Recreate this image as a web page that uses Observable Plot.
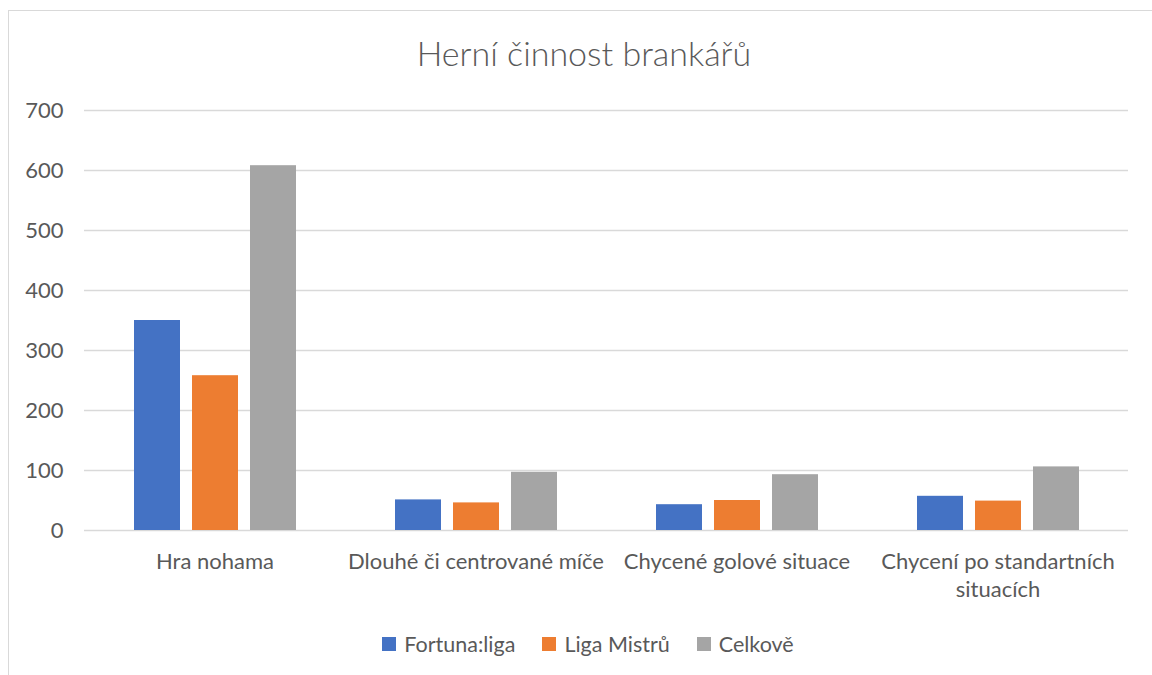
<!DOCTYPE html>
<html>
<head>
<meta charset="utf-8">
<script src="https://cdn.jsdelivr.net/npm/d3@7"></script>
<script src="https://cdn.jsdelivr.net/npm/@observablehq/plot@0.6"></script>
<style>
  html, body { margin: 0; padding: 0; background: #fff; }
  body { width: 1152px; height: 675px; overflow: hidden; position: relative; font-family: Lato, "Open Sans", sans-serif; color: #595959; }
  #frame { position: absolute; left: 8px; top: 10px; width: 1170px; height: 700px; border: 1.5px solid #d9d9d9; box-sizing: border-box; }
  #title { position: absolute; left: 8px; width: 1152px; top: 32px; text-align: center; font-size: 34px; font-weight: 300; line-height: 41px; color: #595959; }
  #chart { position: absolute; left: 0; top: 0; }
  #legend { position: absolute; left: 8px; width: 1160px; top: 630px; display: flex; justify-content: center; gap: 27px; font-size: 21.5px; line-height: 28px; }
  .item { display: flex; align-items: center; gap: 8px; }
  .sw { width: 14px; height: 14px; display: inline-block; }
</style>
</head>
<body>
<div id="frame"></div>
<div id="title">Herní činnost brankářů</div>
<div id="chart"></div>
<div id="legend"></div>
<script>
const categories = ["Hra nohama", "Dlouhé či centrované míče", "Chycené golové situace", "Chycení po standartních situacích"];
const categoryLabels = ["Hra nohama", "Dlouhé či centrované míče", "Chycené golové situace", "Chycení po standartních\nsituacích"];
const series = ["Fortuna:liga", "Liga Mistrů", "Celkově"];
const colors = ["#4472C4", "#ED7D31", "#A5A5A5"];
const fortunaLiga = [350, 51, 43, 57];
const ligaMistru = [258, 46, 50, 49];
const celkove = [608, 97, 93, 106];
const yTicks = [0, 100, 200, 300, 400, 500, 600, 700];

const seriesValues = [fortunaLiga, ligaMistru, celkove];
const data = categories.flatMap((c, i) => series.map((s, j) => ({category: c, series: s, value: seriesValues[j][i]})));
const labelOf = new Map(categories.map((c, i) => [c, categoryLabels[i]]));

const chart = Plot.plot({
  width: 1152,
  height: 610,
  marginLeft: 83,
  marginRight: 24,
  marginTop: 110,
  marginBottom: 80,
  style: {fontFamily: "Lato, 'Open Sans', sans-serif", fontSize: "22px", color: "#595959", background: "transparent"},
  fx: {domain: categories, paddingInner: 0, paddingOuter: 0},
  x: {domain: series, paddingInner: 0.207, paddingOuter: 0.853, axis: null},
  y: {domain: [0, 700]},
  color: {domain: series, range: colors},
  marks: [
    Plot.ruleY(yTicks, {stroke: "#d9d9d9", strokeWidth: 1.3}),
    Plot.barY(data, {fx: "category", x: "series", y: "value", fill: "series"}),
    Plot.axisY({ticks: yTicks, tickSize: 0, tickPadding: 21, fontSize: 22, label: null}),
    Plot.axisFx({anchor: "bottom", tickSize: 0, tickPadding: 19, fontSize: 22, lineHeight: 1.27, tickFormat: d => labelOf.get(d), label: null})
  ]
});
document.getElementById("chart").appendChild(chart);

const legend = document.getElementById("legend");
series.forEach((s, j) => {
  const item = document.createElement("div");
  item.className = "item";
  const sw = document.createElement("span");
  sw.className = "sw";
  sw.style.background = colors[j];
  const t = document.createElement("span");
  t.textContent = s;
  item.appendChild(sw);
  item.appendChild(t);
  legend.appendChild(item);
});
</script>
</body>
</html>
